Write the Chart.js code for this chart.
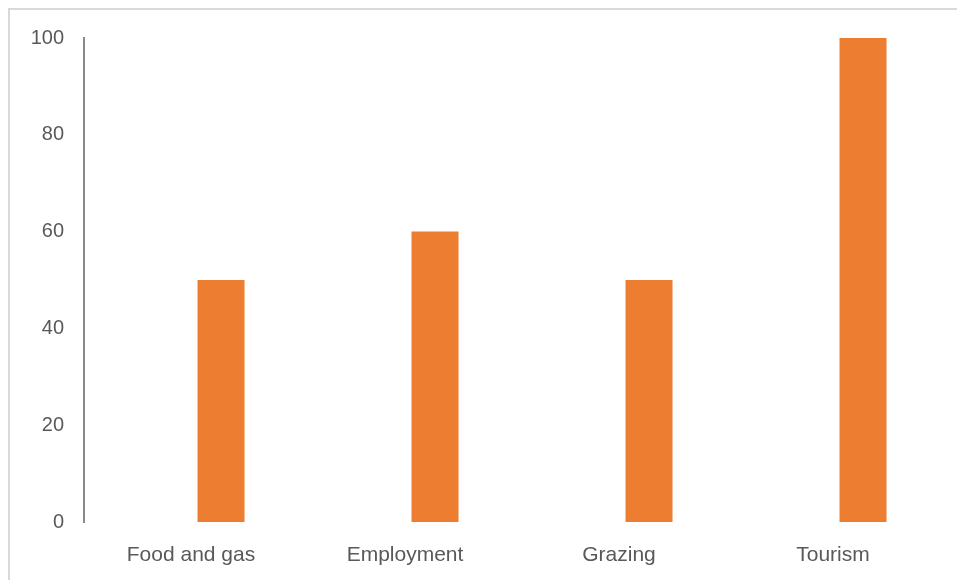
<!DOCTYPE html>
<html>
<head>
<meta charset="utf-8">
<script src="https://cdn.jsdelivr.net/npm/chart.js@4/dist/chart.umd.min.js"></script>
<style>
  html, body { margin: 0; padding: 0; background: #fff; overflow: hidden; }
  #wrap { position: relative; width: 957px; height: 580px; overflow: hidden; }
  #frame {
    position: absolute; left: 8px; top: 8px; width: 1000px; height: 600px;
    border: 2px solid #d9d9d9; box-sizing: border-box;
  }
  #box { position: absolute; left: 0; top: 6px; width: 957px; height: 574px; }
</style>
</head>
<body>
<div id="wrap">
  <div id="frame"></div>
  <div id="box"><canvas id="chart"></canvas></div>
</div>
<script>
// chart data - first series is empty in the original, which pushes the orange bars right
const categories = ["Food and gas", "Employment", "Grazing", "Tourism"];
const emptySeries = [null, null, null, null];
const values = [50, 60, 50, 100];
const yTicks = [0, 20, 40, 60, 80, 100];

const ctx = document.getElementById("chart").getContext("2d");
new Chart(ctx, {
  type: "bar",
  data: {
    labels: categories,
    datasets: [
      {
        data: emptySeries,
        backgroundColor: "#4472c4",
        barPercentage: 0.783,
        categoryPercentage: 0.561,
      },
      {
        data: values,
        backgroundColor: "#ed7d31",
        borderWidth: 0,
        barPercentage: 0.783,
        categoryPercentage: 0.561,
      },
    ],
  },
  options: {
    responsive: true,
    maintainAspectRatio: false,
    animation: false,
    layout: { padding: { top: 19, right: 17, bottom: 0, left: 0 } },
    plugins: { legend: { display: false }, tooltip: { enabled: false } },
    scales: {
      x: {
        grid: { display: false, drawTicks: false },
        border: { display: false },
        ticks: {
          color: "#595959",
          font: { family: "Liberation Sans", size: 21 },
          padding: 21,
          maxRotation: 0,
        },
        afterFit(scale) { scale.height = 58; },
      },
      y: {
        min: 0,
        max: 100,
        grid: { display: false, drawTicks: false },
        border: { display: true, color: "#898989", width: 2 },
        afterBuildTicks(scale) { scale.ticks = yTicks.map(v => ({ value: v })); },
        ticks: {
          color: "#595959",
          font: { family: "Liberation Sans", size: 20 },
          padding: 20,
        },
        afterFit(scale) { scale.width = 84; },
      },
    },
  },
});
</script>
</body>
</html>
